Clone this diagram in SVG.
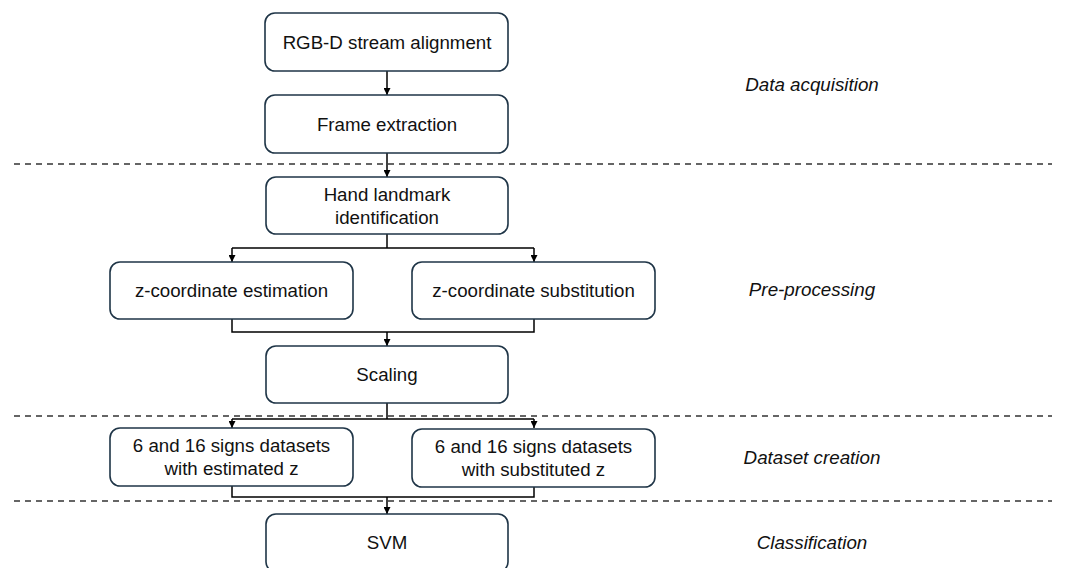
<svg xmlns="http://www.w3.org/2000/svg" width="1067" height="568" viewBox="0 0 1067 568">
<style>
.box{fill:#fff;stroke:#1f3547;stroke-width:1.6}
.t{font-family:"Liberation Sans",Arial,sans-serif;font-size:18.7px;fill:#111;text-anchor:middle}
.lab{font-family:"Liberation Sans",Arial,sans-serif;font-size:18.8px;font-style:italic;fill:#111;text-anchor:middle}
.sep{stroke:#333;stroke-width:1.4;stroke-dasharray:6 5;fill:none}
.c{stroke:#000;stroke-width:1.5;fill:none}
</style>
<defs>
<marker id="ah" viewBox="0 0 10 10" refX="10" refY="5" markerWidth="7" markerHeight="7" markerUnits="userSpaceOnUse" orient="auto">
<path d="M0,0 L10,5 L0,10 z" fill="#000"/>
</marker>
</defs>
<rect width="1067" height="568" fill="#fff"/>
<g id="separators">
<line class="sep" x1="14" y1="164" x2="1052" y2="164"/>
<line class="sep" x1="14" y1="416" x2="1052" y2="416"/>
<line class="sep" x1="14" y1="501" x2="1052" y2="501"/>
</g>
<g id="connectors">
<line class="c" x1="387" y1="71" x2="387" y2="95" marker-end="url(#ah)"/>
<line class="c" x1="387" y1="153" x2="387" y2="177" marker-end="url(#ah)"/>
<polyline class="c" points="387,234 387,248"/>
<polyline class="c" points="232,248 534,248"/>
<line class="c" x1="232" y1="248" x2="232" y2="262" marker-end="url(#ah)"/>
<line class="c" x1="534" y1="248" x2="534" y2="262" marker-end="url(#ah)"/>
<polyline class="c" points="232,319 232,332 534,332 534,319"/>
<line class="c" x1="387" y1="332" x2="387" y2="346" marker-end="url(#ah)"/>
<polyline class="c" points="387,403 387,419"/>
<polyline class="c" points="232,419 534,419"/>
<line class="c" x1="232" y1="419" x2="232" y2="428" marker-end="url(#ah)"/>
<line class="c" x1="534" y1="419" x2="534" y2="428" marker-end="url(#ah)"/>
<polyline class="c" points="232,486 232,497 534,497 534,486"/>
<line class="c" x1="387" y1="497" x2="387" y2="514" marker-end="url(#ah)"/>
</g>
<g id="n-rgbd">
<rect class="box" x="265" y="13" width="243" height="58" rx="10"/>
<text class="t" x="387" y="48.5">RGB-D stream alignment</text>
</g>
<g id="n-frame">
<rect class="box" x="265" y="95" width="243" height="58" rx="10"/>
<text class="t" x="387" y="130.5">Frame extraction</text>
</g>
<g id="n-hand">
<rect class="box" x="266" y="177" width="242" height="57" rx="10"/>
<text class="t" x="387" y="200.5">Hand landmark</text>
<text class="t" x="387" y="223.5">identification</text>
</g>
<g id="n-zest">
<rect class="box" x="110" y="262" width="243" height="57" rx="10"/>
<text class="t" x="231.5" y="297">z-coordinate estimation</text>
</g>
<g id="n-zsub">
<rect class="box" x="412" y="262" width="243" height="57" rx="10"/>
<text class="t" x="533.5" y="297">z-coordinate substitution</text>
</g>
<g id="n-scaling">
<rect class="box" x="266" y="346" width="242" height="57" rx="10"/>
<text class="t" x="387" y="381">Scaling</text>
</g>
<g id="n-dest">
<rect class="box" x="110" y="428" width="243" height="58" rx="10"/>
<text class="t" x="231.5" y="452">6 and 16 signs datasets</text>
<text class="t" x="231.5" y="475">with estimated z</text>
</g>
<g id="n-dsub">
<rect class="box" x="412" y="429" width="243" height="58" rx="10"/>
<text class="t" x="533.5" y="453">6 and 16 signs datasets</text>
<text class="t" x="533.5" y="476">with substituted z</text>
</g>
<g id="n-svm">
<rect class="box" x="266" y="514" width="242" height="58" rx="10"/>
<text class="t" x="387" y="549">SVM</text>
</g>
<g id="labels">
<text class="lab" x="812" y="91">Data acquisition</text>
<text class="lab" x="812" y="296">Pre-processing</text>
<text class="lab" x="812" y="464">Dataset creation</text>
<text class="lab" x="812" y="549">Classification</text>
</g>
</svg>
